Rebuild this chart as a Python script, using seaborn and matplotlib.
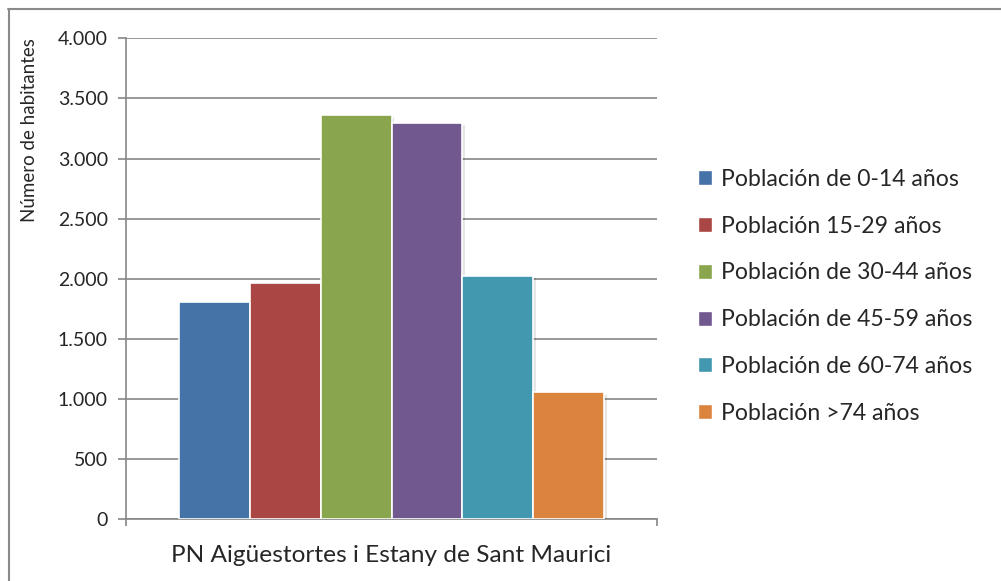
import seaborn as sns
import matplotlib.pyplot as plt
import matplotlib.patheffects as pe
from matplotlib.lines import Line2D
import pandas as pd

sns.set_style("white")
plt.rcParams['font.family'] = ['Lato', 'DejaVu Sans']

park = "PN Aigüestortes i Estany de Sant Maurici"
groups = ["Población de 0-14 años", "Población 15-29 años", "Población de 30-44 años",
          "Población de 45-59 años", "Población de 60-74 años", "Población >74 años"]
habitantes = [1810, 1965, 3365, 3295, 2025, 1055]
colors = ["#4572A7", "#AA4643", "#89A54E", "#71588F", "#4198AF", "#DB843D"]
yticks = [0, 500, 1000, 1500, 2000, 2500, 3000, 3500, 4000]
ylabels = ["0", "500", "1.000", "1.500", "2.000", "2.500", "3.000", "3.500", "4.000"]

df = pd.DataFrame({"Parque": [park] * len(groups), "Grupo": groups, "Habitantes": habitantes})

fig = plt.figure(figsize=(10.01, 5.81), dpi=100)
ax = fig.add_axes([126 / 1001, (581 - 519.3) / 581, (657 - 126) / 1001, (519.3 - 38.3) / 581])

sns.barplot(data=df, x="Parque", y="Habitantes", hue="Grupo", hue_order=groups,
            palette=colors, saturation=1, width=0.8, edgecolor="white", linewidth=1.2,
            legend=False, ax=ax, zorder=3)

for bar in ax.patches:
    bar.set_path_effects([pe.SimplePatchShadow(offset=(2, -1.5), shadow_rgbFace="#000000", alpha=0.1),
                          pe.Normal()])

grid_c = "#868686"
ax.set_ylim(0, 4000)
ax.set_xlim(-0.5, 0.5)
ax.set_yticks(yticks)
ax.set_yticklabels(ylabels, fontsize=14)
ax.set_xticks([-0.5, 0.5])
ax.set_xticklabels(["", ""])
ax.yaxis.grid(True, color=grid_c, linewidth=1.2, zorder=0)
ax.set_axisbelow(True)
ax.tick_params(axis="y", direction="out", length=6, width=1.2, color=grid_c, pad=7, left=True)
ax.tick_params(axis="x", direction="out", length=5, width=1.2, color=grid_c, bottom=True)
for side in ["top", "right"]:
    ax.spines[side].set_visible(False)
for side in ["left", "bottom"]:
    ax.spines[side].set_color(grid_c)
    ax.spines[side].set_linewidth(1.2)
ax.set_ylabel("Número de habitantes", fontsize=13.5, loc="top", labelpad=14)
ax.set_xlabel(park, fontsize=17.6, labelpad=10)

handles = [plt.Rectangle((0, 0), 1, 1, facecolor=c) for c in colors]
fig.legend(handles, groups, loc="upper left", bbox_to_anchor=(677 / 1001, 1 - 148 / 581),
           frameon=False, fontsize=16.6, handlelength=0.62, handleheight=0.62,
           handletextpad=0.4, labelspacing=1.12)

fig.add_artist(Line2D([8 / 1001, 1], [1 - 8.5 / 581, 1 - 8.5 / 581], color="#8a8a8a", linewidth=1.5))
fig.add_artist(Line2D([8.5 / 1001, 8.5 / 1001], [0, 1 - 8.5 / 581], color="#8a8a8a", linewidth=1.5))

fig.savefig("out.png", dpi=100)
